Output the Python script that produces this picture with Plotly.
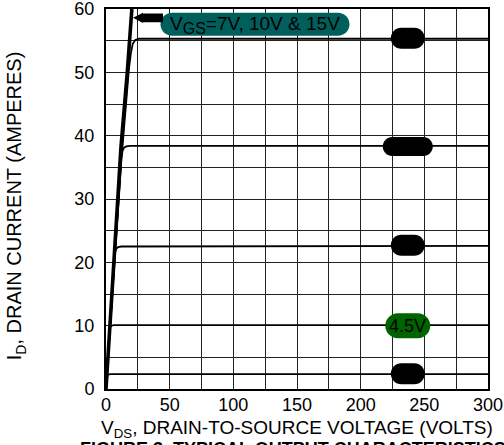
import plotly.graph_objects as go

# ---- data -----------------------------------------------------------------
# Thick on-state line shared by V_GS = 7 V, 10 V and 15 V
VDS_ON = [0, 3.2, 7.0, 11.8, 16.7, 20.3]
ID_ON = [0, 10, 22.5, 38.3, 50, 60]

# Individual output curves (drain current vs drain-source voltage)
VDS_C1 = [0, 3.3, 7.2, 12.2, 14.5, 16.5, 18.0, 19.5, 21.0, 23.0, 26.0, 300]
ID_C1 = [0, 10, 22, 36.5, 42, 47, 50.5, 53, 54.5, 55.1, 55.3, 55.3]

VDS_C2 = [0, 3.3, 7.2, 10.5, 12.0, 13.0, 14.2, 16.0, 19.0, 300]
ID_C2 = [0, 10, 22, 33.5, 36.5, 37.6, 38.1, 38.3, 38.4, 38.4]

VDS_C3 = [0, 3.3, 6.0, 6.8, 7.8, 9.5, 12.0, 300]
ID_C3 = [0, 10, 19.5, 21.3, 22.1, 22.4, 22.5, 22.6]

VDS_C4 = [0, 2.3, 2.8, 3.4, 4.5, 6.0, 300]
ID_C4 = [0, 8.5, 9.4, 9.8, 10.0, 10.1, 10.1]

VDS_C5 = [0, 0.7, 1.2, 2.0, 4.0, 300]
ID_C5 = [0, 1.9, 2.2, 2.3, 2.35, 2.35]

# Curve label positions (V_DS, I_D)
LABEL_X = 237
LABEL_Y = [55.4, 38.3, 22.7, 10.0, 2.4]

X_TICKS = [0, 25, 50, 75, 100, 125, 150, 175, 200, 225, 250, 275, 300]
X_TICK_TEXT = ["0", "", "50", "", "100", "", "150", "", "200", "", "250", "", "300"]
Y_TICKS = [0, 5, 10, 15, 20, 25, 30, 35, 40, 45, 50, 55, 60]
Y_TICK_TEXT = ["0", "", "10", "", "20", "", "30", "", "40", "", "50", "", "60"]

FONT = "Liberation Sans, Arial, Helvetica, sans-serif"
TEAL = "#005F5C"
GREEN = "#006400"

fig = go.Figure()

for xs, ys in [(VDS_C1, ID_C1), (VDS_C2, ID_C2), (VDS_C3, ID_C3),
               (VDS_C4, ID_C4), (VDS_C5, ID_C5)]:
    fig.add_trace(go.Scatter(x=xs, y=ys, mode="lines",
                             line=dict(color="black", width=1.8),
                             hoverinfo="skip", showlegend=False))

fig.add_trace(go.Scatter(x=VDS_ON, y=ID_ON, mode="lines",
                         line=dict(color="black", width=3.6),
                         hoverinfo="skip", showlegend=False))


def pill_path(w, h):
    """Rounded (stadium) outline in pixels, centred on the anchor."""
    r = h / 2.0
    a = w / 2.0 - r
    k = 0.5523 * r
    return (f"M {-a},{-r} L {a},{-r} "
            f"C {a + k},{-r} {a + r},{-k} {a + r},0 "
            f"C {a + r},{k} {a + k},{r} {a},{r} "
            f"L {-a},{r} "
            f"C {-a - k},{r} {-a - r},{k} {-a - r},0 "
            f"C {-a - r},{-k} {-a - k},{-r} {-a},{-r} Z")


def add_pill(x, y, w, h, color):
    fig.add_shape(type="path", xref="x", yref="y",
                  xsizemode="pixel", ysizemode="pixel",
                  xanchor=x, yanchor=y, path=pill_path(w, h),
                  fillcolor=color, line=dict(width=0), layer="above")


# Curve tags
pill_sizes = [(34, 21), (50, 19), (34, 21), (45, 25), (34, 21)]
pill_colors = ["black", "black", "black", GREEN, "black"]
for yv, (w, h), c in zip(LABEL_Y, pill_sizes, pill_colors):
    add_pill(LABEL_X, yv, w, h, c)

fig.add_annotation(x=LABEL_X, y=LABEL_Y[3], text="4.5V", showarrow=False,
                   font=dict(family=FONT, size=18, color="black"),
                   xanchor="center", yanchor="middle")

# Label for the shared on-state line
add_pill(117, 57.6, 189, 23, TEAL)
fig.add_annotation(x=117, y=57.4,
                   text="V<sub><span style='font-size:16px'>GS</span></sub>=7V, 10V & 15V",
                   showarrow=False, font=dict(family=FONT, size=19, color="black"),
                   xanchor="center", yanchor="middle")

# Arrow pointing at the on-state line
fig.add_shape(type="path", xref="x", yref="y",
              xsizemode="pixel", ysizemode="pixel",
              xanchor=21.2, yanchor=58.6,
              path="M 0,0 L 10,5.2 L 10,4.3 L 30,4.3 L 30,-4.3 L 10,-4.3 L 10,-5.2 Z",
              fillcolor="black", line=dict(width=0), layer="above")

# Axis titles and figure caption
fig.add_annotation(xref="paper", yref="paper", x=0.5, y=-0.106,
                   text="V<sub>DS</sub>, DRAIN-TO-SOURCE VOLTAGE (VOLTS)",
                   showarrow=False, xanchor="center", yanchor="middle",
                   font=dict(family=FONT, size=19, color="black"))
fig.add_annotation(xref="paper", yref="paper", x=-0.236, y=0.483,
                   text="I<sub>D</sub>, DRAIN CURRENT (AMPERES)", textangle=-90,
                   showarrow=False, xanchor="center", yanchor="middle",
                   font=dict(family=FONT, size=20, color="black"))
fig.add_annotation(xref="paper", yref="paper", x=-0.073, y=-0.1265,
                   text="<b>FIGURE 3. TYPICAL OUTPUT CHARACTERISTICS</b>",
                   showarrow=False, xanchor="left", yanchor="top",
                   font=dict(family=FONT, size=18, color="black"))

axis_common = dict(showgrid=True, gridcolor="#222222", gridwidth=1.3,
                   zeroline=False, showline=True, linecolor="black",
                   linewidth=2, mirror=True, ticks="", automargin=False,
                   ticklabeloverflow="allow",
                   tickfont=dict(family=FONT, size=18, color="black"),
                   fixedrange=True)

fig.update_xaxes(range=[0, 300], tickmode="array", tickvals=X_TICKS,
                 ticktext=X_TICK_TEXT, ticklabelstandoff=-2, **axis_common)
fig.update_yaxes(range=[0, 60], tickmode="array", tickvals=Y_TICKS,
                 ticktext=Y_TICK_TEXT, ticklabelstandoff=6, **axis_common)

fig.update_layout(width=504, height=445,
                  margin=dict(l=106, r=16, t=9, b=56, autoexpand=False),
                  paper_bgcolor="white", plot_bgcolor="white",
                  font=dict(family=FONT, size=18, color="black"),
                  showlegend=False)

fig.write_html("out.html", config={"displayModeBar": False})
